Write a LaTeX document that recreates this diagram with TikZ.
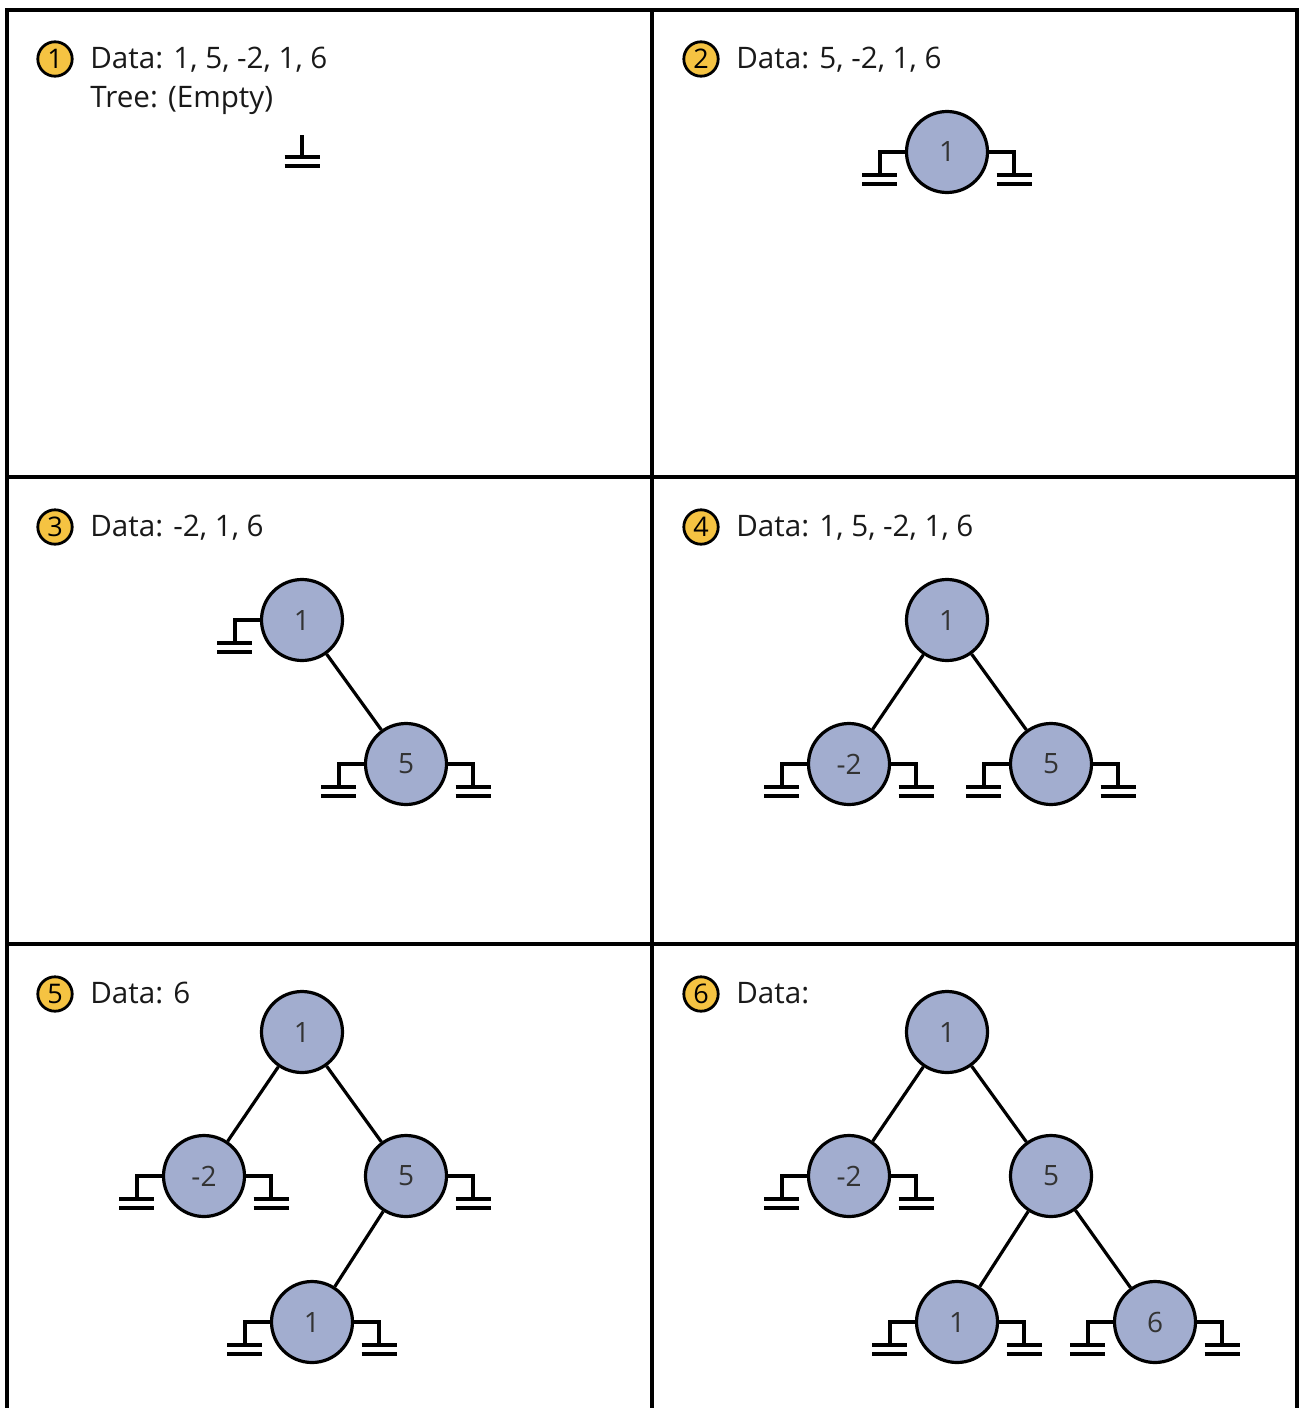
\documentclass[tikz,border=0pt]{standalone}
\usepackage{fontspec}
\setmainfont{Open Sans}
\definecolor{nodeblue}{HTML}{A2ADCF}
\definecolor{numyellow}{HTML}{F5C342}
\definecolor{txtgrey}{HTML}{333333}
\begin{document}
\begin{tikzpicture}[x=0.5pt,y=-0.5pt,
  frameline/.style={line width=1.75pt},
  tnode/.style={circle,draw,line width=1.6pt,fill=nodeblue,minimum size=40.5pt,inner sep=0pt,text=txtgrey,font=\fontsize{14}{16}\selectfont},
  numc/.style={circle,draw,line width=1.4pt,fill=numyellow,minimum size=17.2pt,inner sep=0pt,font=\fontsize{13.5}{15}\selectfont},
  hdr/.style={anchor=base west,inner sep=0pt,text=black!90,font=\fontsize{14.8}{17}\selectfont},
  edge/.style={line width=1.6pt},
  lstub/.pic={\draw[line width=1.75pt] (0,0) -- (-25,0) -- (-25,23);
              \draw[line width=1.75pt] (-42.5,23) -- (-7.5,23);
              \draw[line width=1.75pt] (-42.5,32) -- (-7.5,32);},
  rstub/.pic={\draw[line width=1.75pt] (0,0) -- (25,0) -- (25,23);
              \draw[line width=1.75pt] (7.5,23) -- (42.5,23);
              \draw[line width=1.75pt] (7.5,32) -- (42.5,32);},
  gsym/.pic={\draw[line width=1.75pt] (0,0) -- (0,22);
              \draw[line width=1.75pt] (-17.5,22) -- (17.5,22);
              \draw[line width=1.75pt] (-17.5,31) -- (17.5,31);}
]
\useasboundingbox (0,0) rectangle (1299,1408);
% frame
\draw[frameline] (7,1410) -- (7,10) -- (1297,10) -- (1297,1410);
\draw[frameline] (652,10) -- (652,1410);
\draw[frameline] (7,477) -- (1297,477);
\draw[frameline] (7,944) -- (1297,944);

% Panel 1
\node[numc] (n1) at (55,59) {1};
\node[hdr] (d1) at (90,68) {Data: 1, 5, -2, 1, 6};
\node[hdr] (e1) at (90,107) {Tree: (Empty)};
\coordinate (g1) at (302,135);
\pic at (g1) {gsym};

% Panel 2
\node[numc] (n2) at (701,59) {2};
\node[hdr] (d2) at (736,68) {Data: 5, -2, 1, 6};
\node[tnode] (p2a) at (947,152) {1};
\pic at (p2a.west) {lstub};
\pic at (p2a.east) {rstub};

% Panel 3
\node[numc] (n3) at (55,527) {3};
\node[hdr] (d3) at (90,536) {Data: -2, 1, 6};
\node[tnode] (p3a) at (302,620) {1};
\node[tnode] (p3b) at (406,764) {5};
\draw[edge] (p3a) -- (p3b);
\pic at (p3a.west) {lstub};
\pic at (p3b.west) {lstub};
\pic at (p3b.east) {rstub};

% Panel 4
\node[numc] (n4) at (701,527) {4};
\node[hdr] (d4) at (736,536) {Data: 1, 5, -2, 1, 6};
\node[tnode] (p4a) at (947,620) {1};
\node[tnode] (p4b) at (849,764) {-2};
\node[tnode] (p4c) at (1051,764) {5};
\draw[edge] (p4a) -- (p4b);
\draw[edge] (p4a) -- (p4c);
\pic at (p4b.west) {lstub};
\pic at (p4b.east) {rstub};
\pic at (p4c.west) {lstub};
\pic at (p4c.east) {rstub};

% Panel 5
\node[numc] (n5) at (55,994) {5};
\node[hdr] (d5) at (90,1003) {Data: 6};
\node[tnode] (p5a) at (302,1032) {1};
\node[tnode] (p5b) at (204,1176) {-2};
\node[tnode] (p5c) at (406,1176) {5};
\node[tnode] (p5d) at (312,1322) {1};
\draw[edge] (p5a) -- (p5b);
\draw[edge] (p5a) -- (p5c);
\draw[edge] (p5c) -- (p5d);
\pic at (p5b.west) {lstub};
\pic at (p5b.east) {rstub};
\pic at (p5c.east) {rstub};
\pic at (p5d.west) {lstub};
\pic at (p5d.east) {rstub};

% Panel 6
\node[numc] (n6) at (701,994) {6};
\node[hdr] (d6) at (736,1003) {Data:};
\node[tnode] (p6a) at (947,1032) {1};
\node[tnode] (p6b) at (849,1176) {-2};
\node[tnode] (p6c) at (1051,1176) {5};
\node[tnode] (p6d) at (957,1322) {1};
\node[tnode] (p6e) at (1155,1322) {6};
\draw[edge] (p6a) -- (p6b);
\draw[edge] (p6a) -- (p6c);
\draw[edge] (p6c) -- (p6d);
\draw[edge] (p6c) -- (p6e);
\pic at (p6b.west) {lstub};
\pic at (p6b.east) {rstub};
\pic at (p6d.west) {lstub};
\pic at (p6d.east) {rstub};
\pic at (p6e.west) {lstub};
\pic at (p6e.east) {rstub};
\end{tikzpicture}
\end{document}
